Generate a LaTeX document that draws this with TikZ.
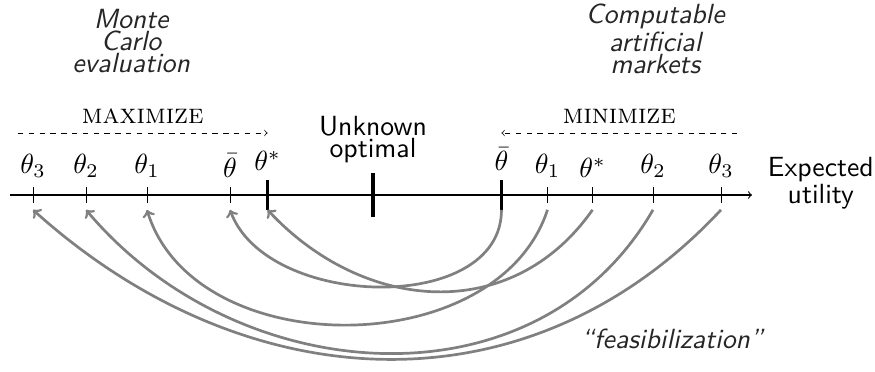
\documentclass[tikz,border=0pt]{standalone}
\usetikzlibrary{positioning}

\tikzset{
  lbl/.style={font=\normalsize, scale=1.54},
  txt/.style={font=\fontsize{10}{8}\selectfont\sffamily, align=center, scale=1.54},
  src/.style={txt, font=\fontsize{10}{8}\selectfont\sffamily\slshape, text=black!85},
  feas/.style={->, gray, line width=1.5pt},
  thicktick/.style={line width=1.9pt},
}

\begin{document}
\begin{tikzpicture}
\useasboundingbox (0,-3.455) rectangle (17.08,3.806);

% Eje
\coordinate (ax-s) at (0.195,0);
\coordinate (ax-e) at (14.68,0);
\draw [semithick, ->] (ax-s) -- (ax-e);
\node [txt, anchor=west] (eu) at ([xshift=0.12cm, yshift=0.23cm]ax-e) {Expected\\utility};

% Puntos sobre el eje
\coordinate (l3) at (0.644,0);
\coordinate (l2) at (1.679,0);
\coordinate (l1) at (2.869,0);
\coordinate (lb) at (4.490,0);
\coordinate (ls) at (5.222,0);
\coordinate (opt) at (7.281,0);
\coordinate (rb) at (9.789,0);
\coordinate (r1) at (10.687,0);
\coordinate (rs) at (11.566,0);
\coordinate (r2) at (12.747,0);
\coordinate (r3) at (14.074,0);

% Marcas
\draw [thin] ([yshift=1.55mm]l3) -- ([yshift=-1.55mm]l3);
\draw [thin] ([yshift=1.55mm]l2) -- ([yshift=-1.55mm]l2);
\draw [thin] ([yshift=1.55mm]l1) -- ([yshift=-1.55mm]l1);
\draw [thin] ([yshift=1.55mm]lb) -- ([yshift=-1.55mm]lb);
\draw [thicktick] ([yshift=2.9mm]ls) -- ([yshift=-2.9mm]ls);
\draw [thicktick] ([yshift=4.3mm]opt) -- ([yshift=-4.3mm]opt);
\draw [thicktick] ([yshift=2.9mm]rb) -- ([yshift=-2.9mm]rb);
\draw [thin] ([yshift=1.55mm]r1) -- ([yshift=-1.55mm]r1);
\draw [thin] ([yshift=1.55mm]rs) -- ([yshift=-1.55mm]rs);
\draw [thin] ([yshift=1.55mm]r2) -- ([yshift=-1.55mm]r2);
\draw [thin] ([yshift=1.55mm]r3) -- ([yshift=-1.55mm]r3);

% Etiquetas
\node [lbl, above] (t-l3) at ([yshift=1.55mm]l3) {$\theta_3$};
\node [lbl, above] (t-l2) at ([yshift=1.55mm]l2) {$\theta_2$};
\node [lbl, above] (t-l1) at ([yshift=1.55mm]l1) {$\theta_1$};
\node [lbl, above] (t-lb) at ([yshift=1.55mm]lb) {$\bar{\theta}$};
\node [lbl, above] (t-ls) at ([yshift=2.9mm]ls) {$\theta^*$};
\node [txt, above] (t-opt) at ([yshift=4.3mm]opt) {Unknown\\optimal};
\node [lbl, above] (t-rb) at ([yshift=2.9mm]rb) {$\bar{\theta}$};
\node [lbl, above] (t-r1) at ([yshift=1.55mm]r1) {$\theta_1$};
\node [lbl, above] (t-rs) at ([yshift=1.55mm]rs) {$\theta^*$};
\node [lbl, above] (t-r2) at ([yshift=1.55mm]r2) {$\theta_2$};
\node [lbl, above] (t-r3) at ([yshift=1.55mm]r3) {$\theta_3$};

% Maximizar / minimizar
\coordinate (max-s) at (0.351,1.21);
\coordinate (max-e) at (5.222,1.21);
\coordinate (min-s) at (14.39,1.21);
\coordinate (min-e) at (9.789,1.21);
\draw [dashed, ->] (max-s) -- node [lbl, above] (maxlbl) {\textsc{maximize}} (max-e);
\draw [dashed, ->] (min-s) -- node [lbl, above] (minlbl) {\textsc{minimize}} (min-e);

% Origen de cada lado
\node [src] (mc) at (2.56,3.0) {Monte\\Carlo\\evaluation};
\node [src] (cam) at (12.79,3.05) {Computable\\artificial\\markets};

% Flechas de factibilizacion
\draw [feas] ([yshift=-2.9mm]rb) to [out=-90, in=-70, looseness=1.0] ([yshift=-2.9mm]lb);
\draw [feas] ([yshift=-2.9mm]rs) to [out=-125, in=-47, looseness=1.11] ([yshift=-2.9mm]ls);
\draw [feas] ([yshift=-2.9mm]r1) to [out=-108, in=-73, looseness=1.03] ([yshift=-2.9mm]l1);
\draw [feas] ([yshift=-2.9mm]r2) to [out=-120, in=-50, looseness=1.06] ([yshift=-2.9mm]l2);
\draw [feas] ([yshift=-2.9mm]r3) to [out=-133, in=-42, looseness=1.06] ([yshift=-2.9mm]l3);
\node [src] (fz) at (13.12,-2.81) {``feasibilization''};
\end{tikzpicture}
\end{document}
